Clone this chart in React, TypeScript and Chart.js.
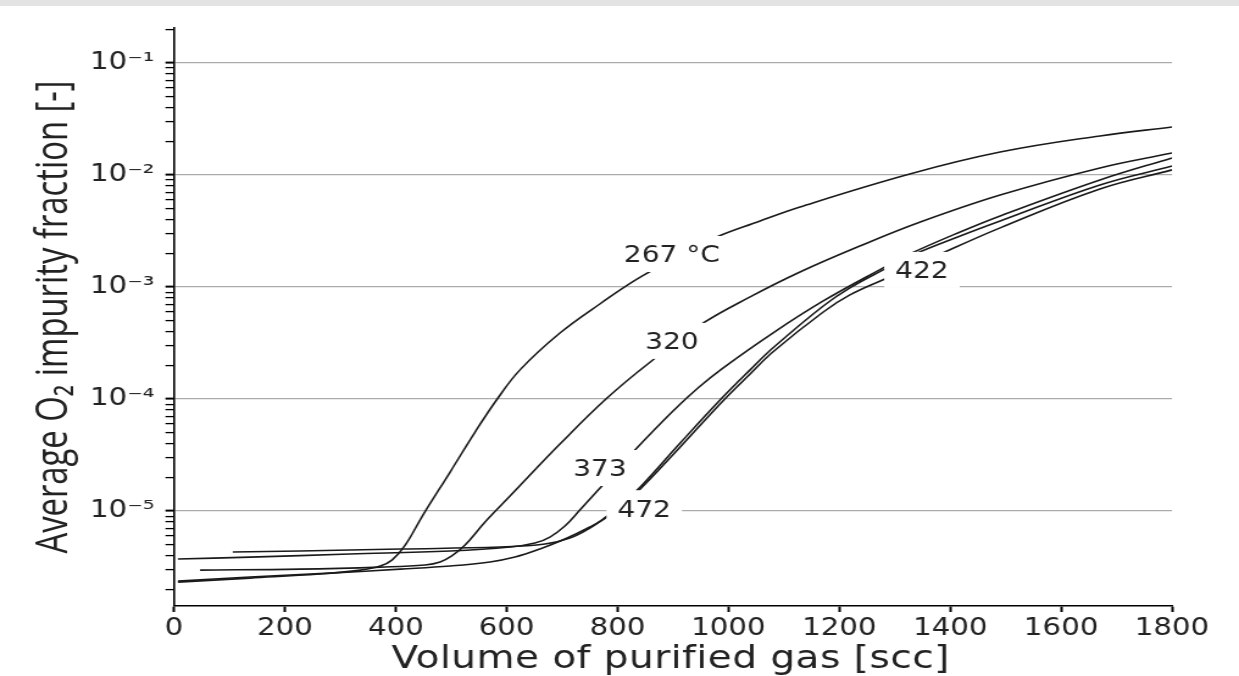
import React, { useEffect, useRef } from 'react';
import { Chart, registerables } from 'chart.js';

Chart.register(...registerables);

// ---------- data (volume in scc, average O2 impurity fraction) ----------
const vol267 = [7, 137, 263, 336, 372, 393, 417, 449, 498, 543, 583, 624, 696, 768, 844, 967, 1057, 1129, 1327, 1490, 1670, 1800];
const frac267 = [2.32e-6, 2.52e-6, 2.74e-6, 2.97e-6, 3.23e-6, 3.65e-6, 4.97e-6, 9.21e-6, 2.23e-5, 5.07e-5, 1.0e-4, 1.82e-4, 3.88e-4, 7.05e-4, 1.25e-3, 2.63e-3, 3.88e-3, 5.18e-3, 1.02e-2, 1.60e-2, 2.23e-2, 2.68e-2];

const vol320 = [47, 227, 372, 453, 480, 501, 525, 561, 606, 696, 781, 859, 949, 1039, 1129, 1237, 1346, 1490, 1670, 1800];
const frac320 = [2.97e-6, 3.03e-6, 3.16e-6, 3.30e-6, 3.51e-6, 3.97e-6, 4.97e-6, 7.98e-6, 1.36e-5, 3.96e-5, 1.02e-4, 2.14e-4, 4.58e-4, 8.15e-4, 1.36e-3, 2.32e-3, 3.80e-3, 6.62e-3, 1.155e-2, 1.57e-2];

const vol373 = [7, 137, 317, 498, 606, 651, 678, 705, 732, 765, 828, 900, 947, 990, 1080, 1171, 1279, 1327, 1418, 1490, 1670, 1800];
const frac373 = [3.73e-6, 3.88e-6, 4.13e-6, 4.40e-6, 4.77e-6, 5.18e-6, 5.86e-6, 7.34e-6, 1.02e-5, 1.54e-5, 3.37e-5, 7.82e-5, 1.28e-4, 1.89e-4, 3.88e-4, 7.50e-4, 1.48e-3, 1.97e-3, 3.10e-3, 4.31e-3, 9.02e-3, 1.42e-2];

const vol422 = [106, 227, 408, 588, 669, 714, 750, 781, 813, 841, 913, 990, 1039, 1080, 1171, 1219, 1279, 1328, 1418, 1490, 1670, 1800];
const frac422 = [4.31e-6, 4.40e-6, 4.58e-6, 4.77e-6, 5.07e-6, 5.74e-6, 7.05e-6, 9.02e-6, 1.23e-5, 1.64e-5, 4.05e-5, 1.04e-4, 1.82e-4, 2.85e-4, 6.76e-4, 9.80e-4, 1.42e-3, 1.89e-3, 2.85e-3, 3.88e-3, 8.15e-3, 1.20e-2];

const vol472 = [7, 137, 281, 408, 498, 570, 615, 660, 705, 750, 781, 813, 841, 913, 990, 1039, 1080, 1171, 1219, 1282, 1367, 1490, 1670, 1800];
const frac472 = [2.37e-6, 2.58e-6, 2.79e-6, 3.03e-6, 3.23e-6, 3.51e-6, 3.88e-6, 4.58e-6, 5.62e-6, 7.20e-6, 8.83e-6, 1.18e-5, 1.57e-5, 3.73e-5, 9.60e-5, 1.67e-4, 2.63e-4, 5.98e-4, 8.49e-4, 1.18e-3, 1.82e-3, 3.37e-3, 7.50e-3, 1.11e-2];

// inline curve labels (anchored in data coordinates)
const labelText = ['267 °C', '320', '373', '422', '472'];
const labelVol = [898, 898, 768, 1349, 848];
const labelFrac = [1.97e-3, 3.30e-4, 2.42e-5, 1.42e-3, 1.06e-5];

// axes
const xMin = 0;
const xMax = 1800;
const xStep = 200;
const yMin = 1.42e-6;
const yMax = 0.205;
const yMajorValues = [1e-5, 1e-4, 1e-3, 1e-2, 1e-1];
const yMajorLabels = ['10⁻⁵', '10⁻⁴', '10⁻³', '10⁻²', '10⁻¹'];
const xTitle = 'Volume of purified gas [scc]';
const yTitle = 'Average O₂ impurity fraction [-]';

// ---------- geometry ----------
const SCREEN_W = 1239;
const SCREEN_H = 676;
const W = 1016; // internal canvas width, stretched horizontally to SCREEN_W
const H = 676;
const SX = SCREEN_W / W;
const PLOT_LEFT = 174 / SX;
const PLOT_RIGHT = 1172 / SX;
const PLOT_TOP = 28;
const PLOT_BOTTOM = 606;

const isMajor = (v: number) => yMajorValues.some((m) => Math.abs(v - m) / m < 1e-6);

export default function App() {
  const ref = useRef<HTMLCanvasElement | null>(null);

  useEffect(() => {
    const canvas = ref.current;
    if (!canvas) return;

    const series = [
      { x: vol267, y: frac267 },
      { x: vol320, y: frac320 },
      { x: vol373, y: frac373 },
      { x: vol422, y: frac422 },
      { x: vol472, y: frac472 },
    ];

    const datasets = series.map((s, k) => ({
      label: labelText[k],
      data: s.x.map((v, i) => ({ x: v, y: s.y[i] })),
      borderColor: '#1a1a1a',
      borderWidth: 1.6,
      pointRadius: 0,
      fill: false,
      tension: 0.4,
    }));

    const textPlugin = {
      id: 'textPlugin',
      afterDatasetsDraw(chart: any) {
        const { ctx, scales } = chart;
        const xs = scales.x;
        const ys = scales.y;
        ctx.save();
        ctx.font = '23px "DejaVu Sans"';
        ctx.textAlign = 'center';
        ctx.textBaseline = 'alphabetic';
        labelText.forEach((t, i) => {
          const px = xs.getPixelForValue(labelVol[i]);
          const py = ys.getPixelForValue(labelFrac[i]);
          const w = ctx.measureText(t).width;
          ctx.fillStyle = '#ffffff';
          ctx.fillRect(px - w / 2 - 9, py - 18, w + 18, 36);
          ctx.fillStyle = '#222222';
          ctx.fillText(t, px, py + 8.4);
        });
        ctx.restore();
      },
      afterDraw(chart: any) {
        const { ctx, chartArea } = chart;
        ctx.save();
        ctx.fillStyle = '#222222';
        // x title
        ctx.font = '32px "DejaVu Sans"';
        ctx.textAlign = 'center';
        ctx.textBaseline = 'alphabetic';
        try {
          (ctx as any).letterSpacing = '0.4px';
        } catch (e) {
          /* ignore */
        }
        ctx.fillText(xTitle, (chartArea.left + chartArea.right) / 2 - 2, 668);
        try {
          (ctx as any).letterSpacing = '0px';
        } catch (e) {
          /* ignore */
        }
        // y title
        ctx.translate(67 / SX, (chartArea.top + chartArea.bottom) / 2);
        ctx.scale(1.12, 1);
        ctx.rotate(-Math.PI / 2);
        ctx.font = '32.8px "Open Sans"';
        ctx.fillText(yTitle, 0, 0);
        ctx.restore();
      },
    };

    const chart = new Chart(canvas, {
      type: 'line',
      data: { datasets },
      options: {
        responsive: false,
        devicePixelRatio: 1,
        animation: false,
        events: [],
        layout: { padding: { top: PLOT_TOP, right: W - PLOT_RIGHT, left: 0, bottom: 0 } },
        plugins: {
          legend: { display: false },
          tooltip: { enabled: false },
          title: { display: false },
        },
        scales: {
          x: {
            type: 'linear',
            min: xMin,
            max: xMax,
            afterFit: (s: any) => {
              s.height = H - PLOT_BOTTOM;
            },
            ticks: {
              stepSize: xStep,
              autoSkip: false,
              maxRotation: 0,
              padding: 2,
              color: '#222222',
              font: { family: '"DejaVu Sans"', size: 24 },
              callback: (value: any) => String(value),
            },
            grid: {
              drawOnChartArea: false,
              drawTicks: true,
              tickLength: 6,
              tickWidth: 2,
              tickColor: '#000000',
            },
            border: { display: true, color: '#000000', width: 1.6 },
          },
          y: {
            type: 'logarithmic',
            min: yMin,
            max: yMax,
            afterFit: (s: any) => {
              s.width = PLOT_LEFT;
            },
            afterBuildTicks: (s: any) => {
              const t: any[] = [];
              for (let e = -7; e <= 0; e++) {
                for (let m = 1; m <= 9; m++) {
                  const v = m * Math.pow(10, e);
                  if (v >= yMin && v <= yMax) t.push({ value: v, major: m === 1 });
                }
              }
              s.ticks = t;
            },
            ticks: {
              autoSkip: false,
              padding: 9,
              color: '#222222',
              font: { family: '"DejaVu Sans"', size: 24 },
              callback: (value: any) => {
                const idx = yMajorValues.findIndex((m) => Math.abs(Number(value) - m) / m < 1e-6);
                return idx >= 0 ? yMajorLabels[idx] : '';
              },
            },
            grid: {
              drawOnChartArea: true,
              drawTicks: true,
              tickLength: 7,
              color: (c: any) => (c.tick && isMajor(c.tick.value) ? '#ababab' : 'rgba(0,0,0,0)'),
              lineWidth: 1.2,
              tickColor: '#000000',
              tickWidth: (c: any) => (c.tick && isMajor(c.tick.value) ? 2 : 1.3),
            },
            border: { display: true, color: '#000000', width: 1.6 },
          },
        },
      },
      plugins: [textPlugin],
    } as any);

    return () => {
      chart.destroy();
    };
  }, []);

  return (
    <div
      style={{
        position: 'fixed',
        left: 0,
        top: 0,
        width: SCREEN_W,
        height: SCREEN_H,
        background: '#ffffff',
        overflow: 'hidden',
      }}
    >
      <canvas
        ref={ref}
        width={W}
        height={H}
        style={{ width: `${SCREEN_W}px`, height: `${SCREEN_H}px`, display: 'block' }}
      />
      <div
        style={{
          position: 'absolute',
          left: 0,
          top: 0,
          width: SCREEN_W,
          height: 6,
          background: '#e3e3e3',
        }}
      />
    </div>
  );
}
